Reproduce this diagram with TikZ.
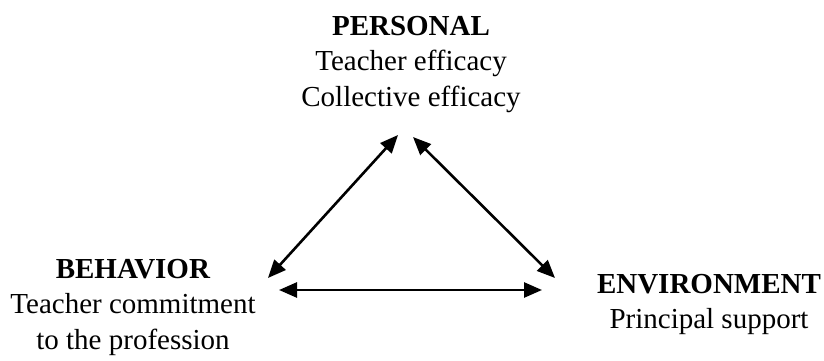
\documentclass[tikz,border=0pt]{standalone}
\usepackage{fontspec}
\setmainfont{Liberation Serif}
\usetikzlibrary{arrows.meta}
\begin{document}
\begin{tikzpicture}[x=1pt, y=1pt,
		factor/.style = {align=center, anchor=north, inner sep=0pt, font=\fontsize{29}{35.5}\selectfont},
		link/.style = {{Triangle[length=18pt,width=15pt]}-{Triangle[length=18pt,width=15pt]}, line width=2.6pt}]
		\useasboundingbox (0,0) rectangle (824,360);
		%% NODES
		% Top
		\node[factor] (personal) at (411,344) {\textbf{PERSONAL}\\Teacher efficacy\\Collective efficacy};
		% Left
		\node[factor] (behavior) at (133,101) {\textbf{BEHAVIOR}\\Teacher commitment\\to the profession};
		% Right
		\node[factor] (environment) at (709,86) {\textbf{ENVIRONMENT}\\Principal support};
		% Arrow ends
		\coordinate (p-left) at (398,225);
		\coordinate (p-right) at (413,223);
		\coordinate (b-top) at (268,82);
		\coordinate (b-right) at (279,70);
		\coordinate (e-top) at (555,82);
		\coordinate (e-left) at (542,70);
		%% ARROWS
		\draw[link] (b-top) -- (p-left);
		\draw[link] (p-right) -- (e-top);
		\draw[link] (b-right) -- (e-left);
	\end{tikzpicture}
\end{document}
